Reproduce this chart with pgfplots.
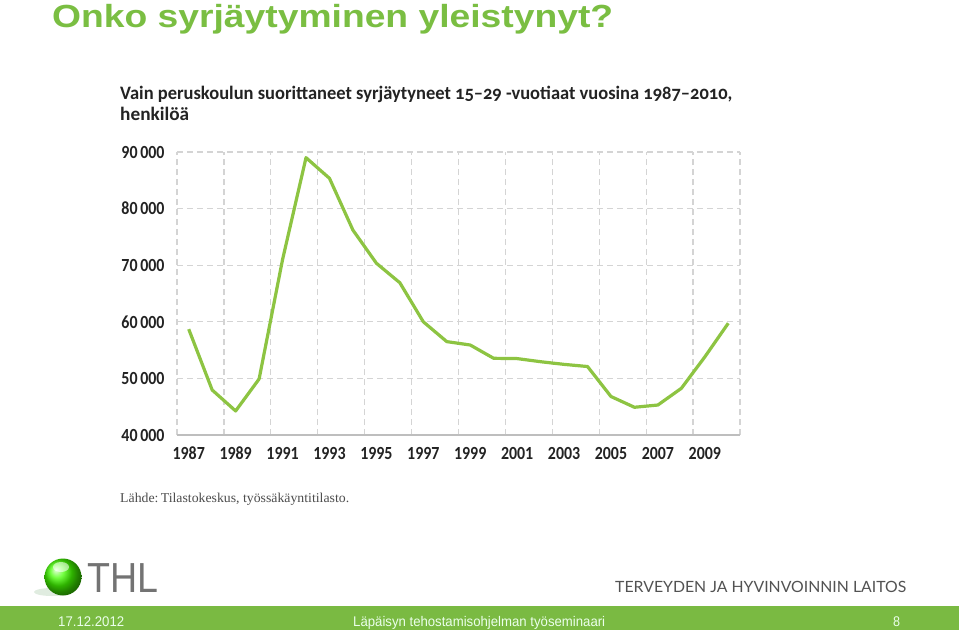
\documentclass[border=0pt]{standalone}
\usepackage{pgfplots}
\pgfplotsset{compat=1.18}
\usepackage{graphicx}
\usepackage{fontspec}
\setmainfont{Liberation Sans}
\newfontfamily\carlito{Carlito}
\newfontfamily\carlitoOS[Numbers=OldStyle]{Carlito}
\newfontfamily\srcfont{Liberation Serif}
\newfontfamily\latofont{Lato}
\definecolor{titlegreen}{RGB}{122,190,66}
\definecolor{linegreen}{RGB}{141,196,66}
\definecolor{bandgreen}{RGB}{122,186,66}
\definecolor{gridgray}{RGB}{212,212,212}
\definecolor{axisgray}{RGB}{190,190,190}
\definecolor{darktext}{RGB}{35,35,35}
\newcommand{\tl}[1]{\scalebox{0.86}[1]{#1}}

\pgfplotstableread{
year value
1987 58700
1988 47950
1989 44250
1990 49900
1991 71000
1992 89000
1993 85350
1994 76200
1995 70350
1996 66900
1997 60000
1998 56500
1999 55900
2000 53550
2001 53500
2002 52950
2003 52480
2004 52100
2005 46800
2006 44900
2007 45300
2008 48250
2009 53800
2010 59750
}\datatable

\begin{document}
\begin{tikzpicture}[x=1pt,y=1pt]
\fill[white] (0,0) rectangle (959,-630);
% slide title
\node[anchor=base west, inner sep=0, text=titlegreen] at (52,-27)
  {\resizebox{561pt}{\height}{\fontsize{32}{36}\selectfont\bfseries Onko syrjäytyminen yleistynyt?}};
% chart title
\node[anchor=base west, inner sep=0, text=darktext] at (120,-99)
  {\resizebox{612pt}{\height}{\carlitoOS\bfseries\fontsize{19}{21}\selectfont Vain peruskoulun suorittaneet syrjäytyneet 15–29 -vuotiaat vuosina 1987–2010,}};
\node[anchor=base west, inner sep=0, text=darktext] at (120,-120)
  {\resizebox{69pt}{\height}{\carlitoOS\bfseries\fontsize{19}{21}\selectfont henkilöä}};

\begin{axis}[
  at={(177pt,-435pt)}, anchor=south west,
  scale only axis, width=563pt, height=283pt,
  xmin=1986.5, xmax=2010.5, ymin=40000, ymax=90000,
  scaled y ticks=false, scaled x ticks=false,
  clip=false,
  axis line style={draw=none},
  major tick length=0pt,
  xtick={1987,1989,...,2009},
  xticklabels={\tl{1987},\tl{1989},\tl{1991},\tl{1993},\tl{1995},\tl{1997},\tl{1999},\tl{2001},\tl{2003},\tl{2005},\tl{2007},\tl{2009}},
  ytick={40000,50000,...,90000},
  yticklabels={\tl{40\,000},\tl{50\,000},\tl{60\,000},\tl{70\,000},\tl{80\,000},\tl{90\,000}},
  tick label style={font=\carlito\bfseries\fontsize{18.5}{18.5}\selectfont, text=darktext},
  xticklabel style={anchor=north, text height=12pt, text depth=0pt, yshift=-9pt},
  yticklabel style={xshift=-9pt},
  ymajorgrids=true, xmajorgrids=false,
  major grid style={gridgray, line width=1.3pt, dash pattern=on 6pt off 4pt},
  extra x ticks={1986.5,1988.5,1990.5,1992.5,1994.5,1996.5,1998.5,2000.5,2002.5,2004.5,2006.5,2008.5,2010.5},
  extra x tick labels={},
  extra x tick style={grid=major},
  extra y ticks={40000},
  extra y tick labels={},
  extra y tick style={grid=major, major grid style={solid, axisgray, line width=1.5pt}},
]
\addplot[linegreen, line width=3.2pt, line join=round, mark=none] table[x=year, y=value] {\datatable};
\end{axis}

% source
\node[anchor=base west, inner sep=0, text=black!70] at (120,-502)
  {\resizebox{229pt}{\height}{\srcfont\fontsize{13.5}{15}\selectfont Lähde:\,Tilastokeskus, työssäkäyntitilasto.}};

% logo
\fill[green!40!black, opacity=0.12] (52,-592) ellipse (18 and 4);
\shade[ball color=green!65!lime] (63,-577) circle (18.5);
\fill[white, opacity=0.55] (61,-567) ellipse (8 and 5);
\node[anchor=base west, inner sep=0, text=black!55] at (87,-592)
  {\resizebox{71pt}{\height}{\fontsize{42}{44}\selectfont THL}};
\node[anchor=base west, inner sep=0, text=black!68] at (615,-592)
  {\resizebox{291pt}{\height}{\latofont\fontsize{15.5}{17}\selectfont TERVEYDEN JA HYVINVOINNIN LAITOS}};

% footer band
\fill[bandgreen] (0,-606) rectangle (959,-630);
\node[anchor=base west, inner sep=0, text=white!92!green] at (58,-626)
  {\resizebox{66pt}{\height}{\fontsize{14}{16}\selectfont 17.12.2012}};
\node[anchor=base west, inner sep=0, text=white!92!green] at (353,-626)
  {\resizebox{252pt}{\height}{\fontsize{14}{16}\selectfont Läpäisyn tehostamisohjelman työseminaari}};
\node[anchor=base west, inner sep=0, text=white!92!green] at (893,-626)
  {\resizebox{7pt}{\height}{\fontsize{14}{16}\selectfont 8}};
\end{tikzpicture}
\end{document}
